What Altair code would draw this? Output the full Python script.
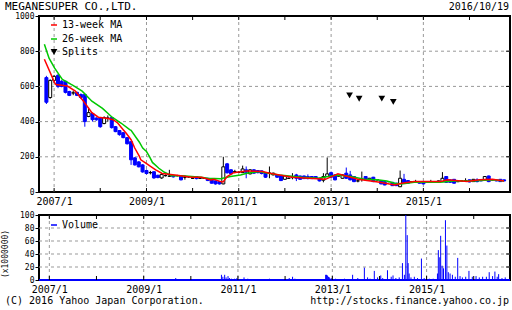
import altair as alt
import pandas as pd

FONT = "DejaVu Sans Mono"
BLUE = "#0000ff"
RED = "#ff0000"
GREEN = "#00c800"
GRID = "#999999"

company = "MEGANESUPER CO.,LTD."
as_of = "2016/10/19"
copyright_text = "(C) 2016 Yahoo Japan Corporation."
url_text = "http://stocks.finance.yahoo.co.jp"
vol_unit = "(x1000000)"

# ---- monthly candles, Nov 2006 .. Oct 2016 ----
first_month = "2006-11-01"
opens = [650, 537,
         634, 663, 629, 629, 571, 563, 566, 554, 554, 429, 446, 420,
         423, 389, 420, 423, 371, 349, 337, 309, 286, 194, 171, 154,
         122, 110, 115, 95, 80, 93, 90, 93, 93, 91, 84, 86,
         78, 88, 78, 78, 78, 69, 63, 59, 46, 160, 126, 116,
         112, 110, 126, 103, 126, 122, 120, 110, 107, 97, 97, 93,
         72, 78, 82, 97, 91, 91, 88, 88, 88, 78, 67, 88,
         110, 97, 91, 78, 107, 97, 88, 63, 72, 88, 69, 84,
         69, 65, 59, 59, 55, 50, 30, 72, 65, 59, 59, 59,
         55, 55, 57, 55, 55, 59, 88, 69, 72, 59, 63, 63,
         69, 59, 69, 69, 67, 91, 69, 69, 72, 69]
closes = [510, 634,
          657, 600, 600, 566, 549, 563, 549, 537, 400, 451, 411, 410,
          371, 423, 420, 366, 343, 326, 309, 274, 183, 154, 143, 114,
          105, 110, 80, 82, 100, 93, 90, 86, 93, 69, 84, 86,
          78, 76, 78, 78, 65, 50, 46, 46, 143, 109, 103, 116,
          112, 131, 112, 126, 107, 110, 105, 84, 107, 107, 84, 65,
          91, 78, 82, 78, 72, 76, 76, 76, 78, 63, 88, 103,
          84, 69, 91, 97, 78, 69, 59, 63, 72, 69, 78, 59,
          69, 46, 40, 59, 36, 36, 78, 50, 50, 59, 59, 50,
          46, 55, 57, 55, 63, 78, 55, 55, 50, 59, 63, 63,
          57, 72, 59, 63, 88, 59, 69, 63, 59, 63]
highs = [660, 640,
         665, 670, 635, 632, 575, 575, 570, 560, 560, 480, 450, 425,
         425, 430, 435, 425, 375, 352, 340, 312, 290, 198, 175, 158,
         128, 120, 118, 98, 105, 100, 126, 95, 98, 94, 95, 90,
         82, 90, 80, 82, 80, 70, 65, 60, 200, 165, 130, 126,
         118, 150, 145, 130, 130, 124, 122, 112, 145, 110, 100, 95,
         95, 82, 107, 103, 93, 93, 100, 90, 90, 80, 107, 196,
         116, 100, 95, 100, 139, 120, 90, 69, 116, 90, 80, 86,
         72, 67, 61, 62, 57, 52, 122, 103, 67, 61, 69, 61,
         57, 57, 69, 57, 65, 113, 90, 71, 74, 61, 66, 78,
         71, 74, 78, 71, 90, 93, 72, 71, 74, 71]
lows = [500, 530,
        620, 590, 595, 560, 545, 550, 545, 530, 371, 425, 400, 405,
        365, 385, 400, 360, 340, 320, 305, 270, 154, 150, 140, 110,
        100, 100, 75, 78, 75, 88, 86, 82, 88, 66, 70, 80,
        74, 72, 74, 74, 62, 48, 42, 42, 44, 105, 100, 107,
        108, 108, 78, 100, 104, 106, 100, 80, 78, 95, 80, 62,
        70, 74, 72, 62, 70, 74, 72, 74, 76, 60, 55, 86,
        82, 66, 88, 76, 75, 66, 56, 55, 59, 66, 66, 56,
        66, 44, 38, 56, 34, 34, 28, 48, 48, 56, 56, 48,
        44, 52, 54, 52, 53, 57, 52, 52, 48, 56, 60, 60,
        55, 57, 55, 61, 65, 56, 66, 61, 57, 61]

# ---- moving averages (decimal year, value) ----
ma13_t = [2006.79, 2007.01, 2007.04, 2007.29, 2007.46, 2007.64, 2007.82, 2007.96,
          2008.17, 2008.28, 2008.38, 2008.50, 2008.56, 2008.67, 2008.75, 2008.85,
          2008.88, 2008.99, 2009.09, 2009.20, 2009.34, 2009.62, 2009.98, 2010.19,
          2010.40, 2010.46, 2010.61, 2010.66, 2010.75, 2010.89, 2011.18, 2011.52,
          2011.67, 2012.16, 2012.88, 2013.15, 2013.58, 2014.06, 2014.38, 2014.53,
          2014.80, 2015.37, 2015.52, 2015.95, 2016.22, 2016.50, 2016.75]
ma13_v = [754, 623, 611, 602, 573, 516, 451, 425,
          417, 411, 392, 354, 335, 297, 250, 202,
          183, 164, 145, 126, 105, 97, 84, 84,
          69, 72, 59, 57, 88, 110, 120, 116,
          107, 84, 72, 103, 72, 55, 40, 50,
          59, 59, 69, 59, 69, 72, 63]
ma26_t = [2006.79, 2006.89, 2007.01, 2007.18, 2007.37, 2007.40, 2007.61, 2007.82,
          2008.05, 2008.26, 2008.45, 2008.64, 2008.67, 2008.85, 2008.92, 2009.00,
          2009.07, 2009.13, 2009.27, 2009.39, 2009.55, 2009.77, 2010.19, 2010.33,
          2010.61, 2010.82, 2011.04, 2011.18, 2011.46, 2011.57, 2011.88, 2012.37,
          2012.73, 2012.94, 2013.15, 2013.43, 2013.72, 2014.00, 2014.21, 2014.38,
          2014.53, 2014.80, 2015.16, 2015.37, 2015.65, 2016.07, 2016.50, 2016.75]
ma26_v = [840, 760, 705, 640, 611, 607, 573, 516,
          475, 425, 392, 354, 350, 283, 250, 230,
          200, 168, 135, 112, 93, 93, 84, 78,
          75, 88, 97, 107, 116, 110, 97, 84,
          78, 88, 97, 88, 72, 69, 63, 50,
          46, 55, 57, 55, 63, 63, 69, 63]

# ---- splits ----
split_t = [2013.40, 2013.61, 2014.10, 2014.35]
split_v = [549, 530, 531, 512]

# ---- volume (x1,000,000) ----
vol_t = [2009.43, 2009.68, 2010.65, 2010.68, 2010.72, 2010.75, 2010.79, 2010.82, 2010.86,
         2010.93, 2010.98, 2011.13, 2011.21, 2011.67, 2011.71, 2012.09, 2012.16, 2012.21,
         2012.31, 2012.86, 2012.88, 2012.90, 2012.92, 2012.94, 2012.98, 2013.07, 2013.15,
         2013.26, 2013.43, 2013.54, 2013.68, 2013.75, 2013.80, 2013.89, 2013.96, 2014.03,
         2014.07, 2014.17, 2014.25, 2014.29, 2014.35, 2014.42, 2014.49, 2014.53, 2014.56,
         2014.59, 2014.61, 2014.63, 2014.67, 2014.74, 2014.81, 2014.89, 2014.95, 2015.06,
         2015.14, 2015.23, 2015.25, 2015.28, 2015.30, 2015.33, 2015.36, 2015.40, 2015.43,
         2015.46, 2015.50, 2015.55, 2015.61, 2015.66, 2015.71, 2015.76, 2015.83, 2015.90,
         2015.97, 2016.05, 2016.12, 2016.19, 2016.27, 2016.33, 2016.40, 2016.45, 2016.50,
         2016.53, 2016.60, 2016.67]
vol_v = [1.5, 3, 8, 5, 8, 4, 6, 3, 2,
         2, 3, 4, 2, 2, 1.5, 3, 5, 2,
         1, 8, 8, 7, 5, 4, 3, 2, 1,
         2, 8, 3, 19, 4, 2, 14, 4, 7,
         3, 15, 5, 7, 3, 4, 26, 8, 100,
         69, 26, 10, 4, 5, 3, 33, 3, 2,
         2, 10, 46, 35, 68, 22, 18, 92, 53,
         12, 10, 8, 5, 34, 6, 4, 5, 14,
         5, 6, 4, 5, 5, 12, 6, 13, 5,
         9, 3, 4]

year_ticks = list(range(2007, 2017))
label_years = [2007, 2009, 2011, 2013, 2015]
price_ticks = [0, 200, 400, 600, 800, 1000]
price_grid = [200, 400, 600, 800]
vol_ticks = [0, 20, 40, 60, 80, 100]
vol_grid = [20, 40, 60, 80]


def dec_to_date(y):
    yr = int(y)
    d = pd.Timestamp(year=yr, month=1, day=1) + pd.Timedelta(days=(y - yr) * 365.25)
    return d.strftime("%Y-%m-%d")


months = pd.date_range(first_month, periods=len(opens), freq="MS").strftime("%Y-%m-%d")
candles = pd.DataFrame({"date": months, "open": opens, "close": closes,
                        "high": highs, "low": lows})
candles["kind"] = ["up" if c > o else ("down" if c < o else "flat")
                   for o, c in zip(opens, closes)]

ma_df = pd.concat([
    pd.DataFrame({"date": [dec_to_date(t) for t in ma26_t], "v": ma26_v, "s": "26"}),
    pd.DataFrame({"date": [dec_to_date(t) for t in ma13_t], "v": ma13_v, "s": "13"}),
])
splits = pd.DataFrame({"date": [dec_to_date(t) for t in split_t], "v": split_v})
volume = pd.DataFrame({"date": [dec_to_date(t) for t in vol_t], "v": vol_v})
yticks = pd.DataFrame({"date": [f"{y}-01-01" for y in year_ticks]})
vgrid = pd.DataFrame({"date": [f"{y}-01-01" for y in label_years]})
one = pd.DataFrame({"a": [0]})

W = 471
H1 = 176
H2 = 65

xscale = alt.Scale(domain=[alt.DateTime(year=2006, month=10, date=13),
                           alt.DateTime(year=2016, month=10, date=8)])


def xaxis():
    return alt.Axis(values=[alt.DateTime(year=y, month=1, date=1) for y in label_years],
                    format="%Y/%-m", labelFont=FONT, labelFontSize=10, labelColor="#000",
                    ticks=False, tickSize=0, domain=False, grid=False,
                    labelPadding=4, labelAngle=0, labelFlush=False, labelOverlap=False)


def X(field="date"):
    return alt.X(f"{field}:T", scale=xscale, axis=xaxis(), title=None)


def yaxis(vals):
    return alt.Axis(values=vals, format="d", labelFont=FONT, labelFontSize=8,
                    labelColor="#000", tickSize=4, tickColor="#000", domain=False,
                    grid=False, labelPadding=1, labelOverlap=False, labelFlush=False)


pscale = alt.Scale(domain=[0, 1000], nice=False)
vscale = alt.Scale(domain=[0, 100], nice=False)


def PY(field):
    return alt.Y(f"{field}:Q", scale=pscale, axis=yaxis(price_ticks), title=None)


def VY(field):
    return alt.Y(f"{field}:Q", scale=vscale, axis=yaxis(vol_ticks), title=None)


kind_dom = ["down", "up", "flat"]
fill_scale = alt.Scale(domain=kind_dom, range=[BLUE, "#ffffff", "#000000"])
stroke_scale = alt.Scale(domain=kind_dom, range=[BLUE, "#000000", "#000000"])


def text_layer(txt, x, y, size=10, align="left", baseline="alphabetic", angle=0):
    return alt.Chart(one).mark_text(text=txt, font=FONT, fontSize=size, align=align,
                                    baseline=baseline, angle=angle, color="#000").encode(
        x=alt.value(x), y=alt.value(y))


# ---- main price panel ----
hgrid = alt.Chart(pd.DataFrame({"v": price_grid})).mark_rule(
    color=GRID, strokeDash=[3, 3], strokeWidth=1).encode(y=PY("v"))
vgrid_l = alt.Chart(vgrid).mark_rule(color=GRID, strokeDash=[3, 3], strokeWidth=1).encode(x=X())
wicks = alt.Chart(candles).mark_rule(strokeWidth=1).encode(
    x=X(), y=PY("low"), y2="high:Q",
    stroke=alt.Stroke("kind:N", scale=stroke_scale, legend=None))
bodies = alt.Chart(candles).mark_bar(width=3, strokeWidth=1).encode(
    x=X(), y=PY("open"), y2="close:Q",
    fill=alt.Fill("kind:N", scale=fill_scale, legend=None),
    stroke=alt.Stroke("kind:N", scale=stroke_scale, legend=None))
ma_lines = alt.Chart(ma_df).mark_line(strokeWidth=1.5).encode(
    x=X(), y=PY("v"),
    color=alt.Color("s:N", scale=alt.Scale(domain=["26", "13"], range=[GREEN, RED]), legend=None),
    detail="s:N")
split_pts = alt.Chart(splits).mark_point(shape="triangle-down", filled=True, size=45,
                                         color="#000", opacity=1).encode(
    x=X(), y=PY("v"))
tick_bottom = alt.Chart(yticks).mark_rule(color="#000").encode(
    x=X(), y=alt.value(H1), y2=alt.value(H1 - 4))
tick_top = alt.Chart(yticks).mark_rule(color="#000").encode(
    x=X(), y=alt.value(0), y2=alt.value(4))
tick_right = alt.Chart(pd.DataFrame({"v": price_grid})).mark_rule(color="#000").encode(
    y=PY("v"), x=alt.value(W), x2=alt.value(W - 4))

leg13 = alt.Chart(one).mark_rule(color=RED, strokeWidth=1.5).encode(
    x=alt.value(12), x2=alt.value(18), y=alt.value(9))
leg26 = alt.Chart(one).mark_rule(color=GREEN, strokeWidth=1.5).encode(
    x=alt.value(12), x2=alt.value(18), y=alt.value(23))
legsp = alt.Chart(one).mark_point(shape="triangle-down", filled=True, size=45,
                                  color="#000", opacity=1).encode(
    x=alt.value(15), y=alt.value(36))

main = alt.layer(
    hgrid, vgrid_l, wicks, bodies, ma_lines, split_pts,
    tick_bottom, tick_top, tick_right,
    leg13, leg26, legsp,
    text_layer("13-week MA", 23, 9, baseline="middle"),
    text_layer("26-week MA", 23, 23, baseline="middle"),
    text_layer("Splits", 23, 36, baseline="middle"),
    text_layer(company, -34, -6, size=11),
    text_layer(as_of, W - 1, -6, size=10, align="right"),
).properties(width=W, height=H1)

# ---- volume panel ----
vhgrid = alt.Chart(pd.DataFrame({"v": vol_grid})).mark_rule(
    color=GRID, strokeDash=[3, 3], strokeWidth=1).encode(y=VY("v"))
vvgrid = alt.Chart(vgrid).mark_rule(color=GRID, strokeDash=[3, 3], strokeWidth=1).encode(x=X())
vbars = alt.Chart(volume).mark_rule(color=BLUE, strokeWidth=1).encode(
    x=X(), y=VY("v"), y2=alt.datum(0))
vbase = alt.Chart(one).mark_rule(color=BLUE, strokeWidth=2).encode(
    y=alt.Y(datum=0, scale=vscale, axis=yaxis(vol_ticks), title=None))
vtick_bottom = alt.Chart(yticks).mark_rule(color="#000").encode(
    x=X(), y=alt.value(H2), y2=alt.value(H2 - 4))
vtick_top = alt.Chart(yticks).mark_rule(color="#000").encode(
    x=X(), y=alt.value(0), y2=alt.value(4))
vtick_right = alt.Chart(pd.DataFrame({"v": vol_grid})).mark_rule(color="#000").encode(
    y=VY("v"), x=alt.value(W), x2=alt.value(W - 4))
vleg = alt.Chart(one).mark_rule(color=BLUE, strokeWidth=1.5).encode(
    x=alt.value(12), x2=alt.value(18), y=alt.value(10))

vol = alt.layer(
    vhgrid, vvgrid, vbars, vbase, vtick_bottom, vtick_top, vtick_right, vleg,
    text_layer("Volume", 23, 10, baseline="middle"),
    text_layer(vol_unit, -33, 39, size=8, align="center", baseline="middle", angle=270),
    text_layer(copyright_text, -34, 89, size=10),
    text_layer(url_text, W - 1, 89, size=10, align="right"),
).properties(width=W, height=H2)

chart = alt.vconcat(main, vol, spacing=23, bounds="flush").properties(
    padding={"left": 1, "top": 0, "right": 0, "bottom": 0},
    background="#ffffff",
).configure_view(stroke="#000000", strokeWidth=2)

chart.save("out.html", embed_options={"renderer": "svg", "actions": False})
